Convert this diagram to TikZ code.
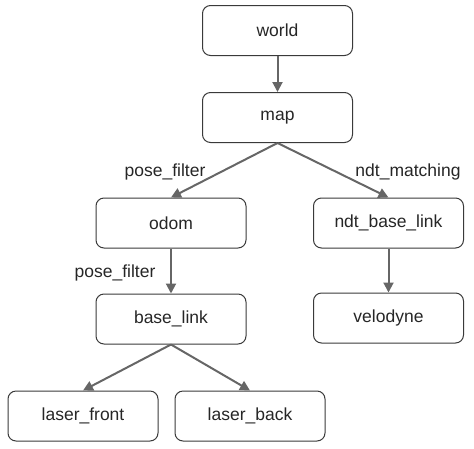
\documentclass[tikz,border=0pt]{standalone}
\usepackage{fontspec}
\setmainfont{Liberation Sans}
\usetikzlibrary{arrows.meta}
\definecolor{boxline}{HTML}{3A3A3A}
\definecolor{arrowc}{HTML}{666666}
\tikzset{
  framebox/.style={draw=boxline, line width=1pt, rounded corners=8pt, minimum width=150pt, minimum height=50pt, inner sep=0pt, font=\fontsize{17.5}{20}\selectfont, text=black!85},
  link/.style={draw=arrowc, line width=2pt, -{Triangle[length=10pt,width=10pt]}},
  lbl/.style={font=\fontsize{17.5}{20}\selectfont, text=black!85, inner sep=0pt}
}
\begin{document}
\begin{tikzpicture}[x=1pt,y=-1pt]
\useasboundingbox (0,0) rectangle (474,448);
\node[framebox] (world) at (277.5,30.5) {world};
\node[framebox] (map) at (277.5,117.5) {map};
\node[framebox] (odom) at (171,223) {odom};
\node[framebox] (ndt) at (388.5,223) {ndt\_base\_link};
\node[framebox] (base) at (171,319) {base\_link};
\node[framebox] (velo) at (388.5,318) {velodyne};
\node[framebox] (lf) at (83,416) {laser\_front};
\node[framebox] (lb) at (250,416) {laser\_back};
\draw[link] (world.south) -- (map.north);
\draw[link] (map.south) -- (odom.north);
\draw[link] (map.south) -- (ndt.north);
\draw[link] (odom.south) -- (base.north);
\draw[link] (ndt.south) -- (velo.north);
\draw[link] (base.south) -- (lf.north);
\draw[link] (base.south) -- (lb.north);
\node[lbl] (l1) at (165,172) {pose\_filter};
\node[lbl] (l2) at (408,172) {ndt\_matching};
\node[lbl] (l3) at (115,273) {pose\_filter};
\end{tikzpicture}
\end{document}
